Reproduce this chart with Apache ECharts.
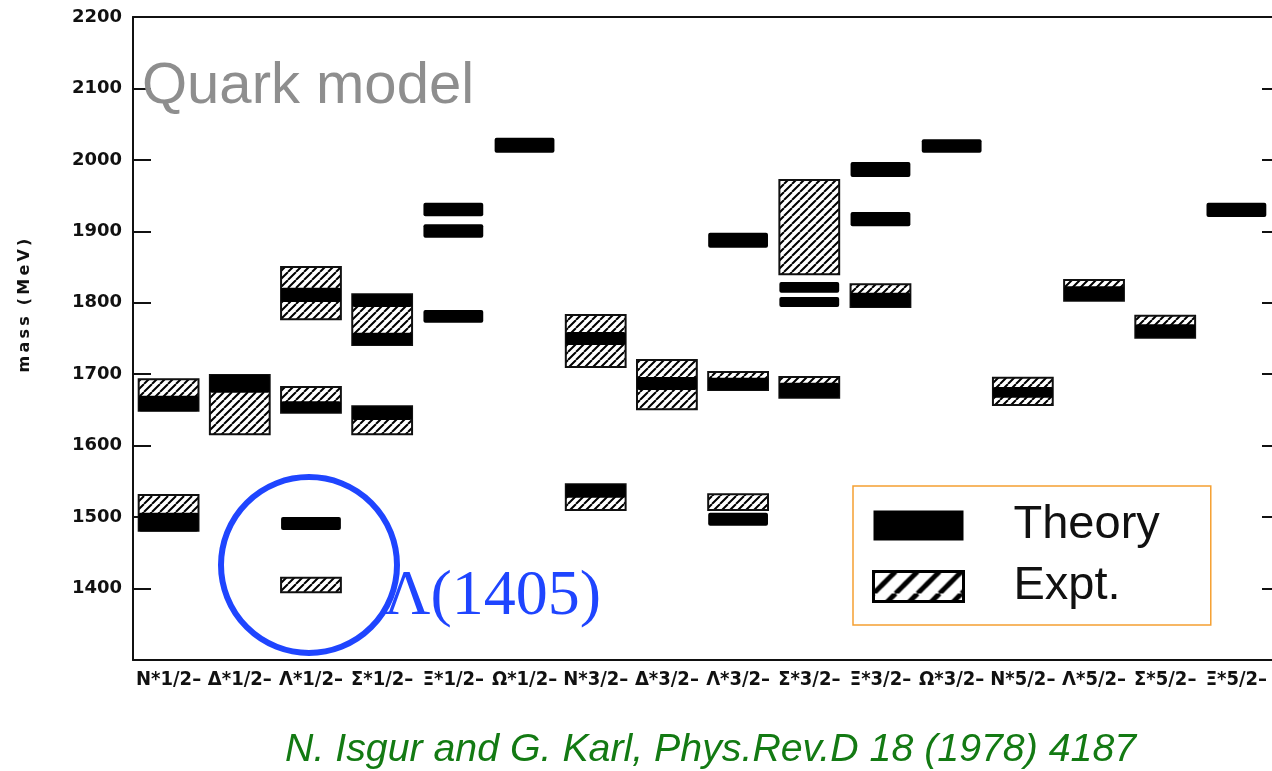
<!DOCTYPE html>
<html><head><meta charset="utf-8">
<script src="https://cdn.jsdelivr.net/npm/echarts@6/dist/echarts.min.js"></script>
<style>html,body{margin:0;padding:0;background:#fff}#c{width:1272px;height:771px}</style>
</head><body><div id="c"></div>
<script>
// ---------- data ----------
const categories = ['N*1/2','Δ*1/2','Λ*1/2','Σ*1/2','Ξ*1/2','Ω*1/2','N*3/2','Δ*3/2',
                    'Λ*3/2','Σ*3/2','Ξ*3/2','Ω*3/2','N*5/2','Λ*5/2','Σ*5/2','Ξ*5/2'];
const yMin = 1300, yMax = 2200, yStep = 100;
// [category index, low mass, high mass] (MeV)
const theoryBands = [
  [0,1648,1670],[0,1480,1506],
  [1,1674,1699],
  [2,1801,1821],[2,1646,1662],[2,1482,1500],
  [3,1794,1812],[3,1741,1758],[3,1636,1655],
  [4,1921,1940],[4,1891,1910],[4,1772,1790],
  [5,2010,2031],
  [6,1741,1759],[6,1527,1546],
  [7,1678,1696],
  [8,1877,1898],[8,1678,1695],[8,1488,1506],
  [9,1814,1829],[9,1794,1808],[9,1667,1688],
  [10,1976,1997],[10,1907,1927],[10,1794,1814],
  [11,2010,2029],
  [12,1667,1682],
  [13,1803,1823],
  [14,1751,1770],
  [15,1920,1940]
];
const exptBands = [
  [0,1649,1693],[0,1481,1531],
  [1,1616,1699],
  [2,1777,1850],[2,1646,1682],[2,1395,1415],
  [3,1741,1812],[3,1616,1655],
  [6,1710,1783],[6,1510,1546],
  [7,1651,1720],
  [8,1678,1703],[8,1510,1532],
  [9,1840,1972],[9,1667,1696],
  [10,1794,1826],
  [12,1657,1695],
  [13,1803,1832],
  [14,1751,1782]
];
const seriesNames = ['Theory','Expt.'];
const titleText = 'Quark model';
const noteText = 'Λ(1405)';
const citeText = 'N. Isgur and G. Karl, Phys.Rev.D 18 (1978) 4187';
const yName = 'm\u2009a\u2009s\u2009s  (\u2009M\u2009e\u2009V\u2009)';

// ---------- hatch patterns ----------
function hatch(size, lw){
  const c = document.createElement('canvas');
  c.width = c.height = size;
  const g = c.getContext('2d');
  g.fillStyle = '#fff'; g.fillRect(0,0,size,size);
  g.strokeStyle = '#000'; g.lineWidth = lw;
  g.beginPath();
  for (let k=-1;k<=1;k++){ g.moveTo(k*size, size); g.lineTo(k*size+size, 0); }
  g.stroke();
  return c;
}
const boxHatch = hatch(8, 2);
const legendHatch = hatch(22, 5);

function makeRender(isExpt){
  return function(params, api){
    const c = api.value(0);
    const pHi = api.coord([c, api.value(2)]);
    const pLo = api.coord([c, api.value(1)]);
    const w = api.size([1,0])[0]*0.84;
    return {
      type:'rect',
      shape:{x:pHi[0]-w/2, y:pHi[1], width:w, height:pLo[1]-pHi[1], r: isExpt?0:2},
      style: isExpt ? {fill:{image:boxHatch, repeat:'repeat'}, stroke:'#111', lineWidth:2}
                    : {fill:'#000'}
    };
  };
}

const axisFont = '"Liberation Sans Narrow","DejaVu Sans Condensed","DejaVu Sans",sans-serif';
const chart = echarts.init(document.getElementById('c'));
chart.setOption({
  backgroundColor:'#fff',
  animation:false,
  title:[
    {text:titleText, left:142, top:58, padding:0,
     textStyle:{fontFamily:'"Liberation Sans",Arial,sans-serif', fontSize:58, fontWeight:'normal', color:'#8e8e8e'}},
    {text:noteText, left:384, top:565, padding:0,
     textStyle:{fontFamily:'"Liberation Serif","Times New Roman",serif', fontSize:64, fontWeight:'normal', color:'#1f45ff'}},
    {text:citeText, left:285, top:731, padding:0,
     textStyle:{fontFamily:'"Liberation Sans",Arial,sans-serif', fontSize:39.3, fontStyle:'italic', fontWeight:'normal', color:'#137a13'}}
  ],
  legend:{
    orient:'vertical', left:853, top:486, padding:[16,51,15,19],
    borderColor:'#f5a032', borderWidth:1.5, backgroundColor:'#fff',
    itemWidth:90, itemHeight:30, itemGap:14, selectedMode:false,
    textStyle:{fontFamily:'"Liberation Sans",Arial,sans-serif', fontSize:47, color:'#111', lineHeight:30, padding:[0,0,0,45]},
    data:[
      {name:seriesNames[0], icon:'rect', itemStyle:{color:'#000', borderWidth:0}},
      {name:seriesNames[1], icon:'rect', itemStyle:{color:{image:legendHatch, repeat:'repeat'}, borderColor:'#000', borderWidth:3}}
    ]
  },
  grid:{left:133, top:17, right:0, height:643, containLabel:false},
  xAxis:[
    {type:'category', data:categories, position:'bottom', boundaryGap:true,
     axisLine:{lineStyle:{color:'#111', width:2}},
     axisTick:{inside:true, length:17, interval:0, lineStyle:{color:'#111', width:2}},
     axisLabel:{interval:0, margin:10, fontFamily:axisFont, fontWeight:'bold', fontSize:20, color:'#111',
       formatter: v => v + '–'}},
    {type:'category', data:categories, position:'top', boundaryGap:true,
     axisLine:{lineStyle:{color:'#111', width:2}},
     axisTick:{inside:true, length:17, interval:0, lineStyle:{color:'#111', width:2}},
     axisLabel:{show:false}}
  ],
  yAxis:[
    {type:'value', min:yMin, max:yMax, interval:yStep, position:'left',
     name:yName, nameLocation:'middle', nameGap:100, nameRotate:90,
     nameTextStyle:{fontFamily:'"DejaVu Sans",sans-serif', fontWeight:'bold', fontSize:16, color:'#111', padding:[0,0,0,66]},
     axisLine:{show:true, lineStyle:{color:'#111', width:2}},
     axisTick:{show:true, inside:true, length:18, lineStyle:{color:'#111', width:2}},
     splitLine:{show:false},
     axisLabel:{margin:11, fontFamily:'"DejaVu Sans",sans-serif', fontWeight:'bold', fontSize:18, color:'#111',
       formatter: v => v === yMin ? '' : String(v)}},
    {type:'value', min:yMin, max:yMax, interval:yStep, position:'right', offset:5,
     axisLine:{show:true, lineStyle:{color:'#111', width:2}},
     axisTick:{show:true, inside:true, length:15, lineStyle:{color:'#111', width:2}},
     splitLine:{show:false}, axisLabel:{show:false}}
  ],
  graphic:[
    {type:'circle', z:100, shape:{cx:309, cy:565, r:88},
     style:{fill:null, stroke:'#1f45ff', lineWidth:6}}
  ],
  series:[
    {name:seriesNames[1], type:'custom', z:2, data:exptBands, encode:{x:0, y:[1,2]},
     itemStyle:{color:'#fff'}, renderItem:makeRender(true)},
    {name:seriesNames[0], type:'custom', z:3, data:theoryBands, encode:{x:0, y:[1,2]},
     itemStyle:{color:'#000'}, renderItem:makeRender(false)}
  ]
});
</script></body></html>
